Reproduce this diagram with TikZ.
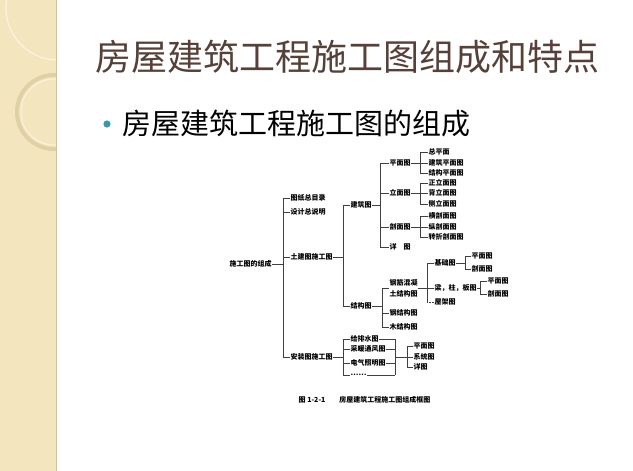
\documentclass[tikz,border=0pt]{standalone}
\usepackage{fontspec}
\newfontfamily\cjk{Noto Sans CJK SC}
\usetikzlibrary{positioning,calc}

\definecolor{bandbg}{RGB}{243,229,190}
\definecolor{bandedge}{RGB}{212,194,150}
\definecolor{titlecol}{RGB}{86,64,56}
\definecolor{bulletcol}{RGB}{60,152,174}

\begin{document}
\begin{tikzpicture}[x=1pt,y=-1pt,
    lbl/.style={anchor=west,inner sep=0.5pt,font=\cjk\bfseries\fontsize{7}{11}\selectfont},
    link/.style={draw=black!75,line width=0.5pt},
    title/.style={anchor=west,inner sep=0pt,text=titlecol,
                  font=\cjk\fontsize{36}{40}\selectfont},
    subtitle/.style={anchor=west,inner sep=0pt,
                  font=\cjk\fontsize{29}{32}\selectfont}]

    \useasboundingbox (0,0) rectangle (633,471);

    % left band
    \fill[bandbg] (0,0) rectangle (56,471);
    \begin{scope}
      \clip (0,0) rectangle (56,471);
      \draw[white!55!bandbg,line width=1.2pt] (58,8) circle (52);
      \draw[bandedge!60!bandbg,line width=4pt] (54,112) circle (37);
      \draw[white!50!bandbg,line width=1pt] (54,112) circle (33);
    \end{scope}
    \draw[bandedge,line width=1pt] (56,0) -- (56,471);

    % headings
    \node[title] (ttl) at (95,57) {房屋建筑工程施工图组成和特点};
    \fill[bulletcol] (107,124) circle (3.6);
    \node[subtitle] (sub) at (122,124) {房屋建筑工程施工图的组成};

    % level 0 and 1
    \node[lbl] (sgt) at (229,264) {施工图的组成};
    \coordinate (j0) at (283,264);
    \foreach \n/\t/\y in {tzml/图纸总目录/198, sjsm/设计总说明/212,
                          tjt/土建图施工图/257, azt/安装图施工图/357}
      \node[lbl] (\n) at (290,\y) {\t};
    \draw[link] (sgt) -- (j0);
    \draw[link] (j0 |- tzml.west) -- (j0 |- azt.west);
    \foreach \n in {tzml,sjsm,tjt,azt}
      \draw[link] (j0 |- \n.west) -- (\n.west);

    % 土建图施工图
    \coordinate (j1) at (343,257);
    \node[lbl] (jzt) at (350,205) {建筑图};
    \node[lbl] (jgt) at (350,306) {结构图};
    \draw[link] (tjt) -- (j1);
    \draw[link] (j1 |- jzt.west) -- (j1 |- jgt.west);
    \foreach \n in {jzt,jgt}
      \draw[link] (j1 |- \n.west) -- (\n.west);

    % 建筑图
    \coordinate (j2) at (380,205);
    \foreach \n/\t/\y in {pmt/平面图/163, lmt/立面图/193,
                          pqt/剖面图/227, xt/详\quad 图/247}
      \node[lbl] (\n) at (389,\y) {\t};
    \draw[link] (jzt) -- (j2);
    \draw[link] (j2 |- pmt.west) -- (j2 |- xt.west);
    \foreach \n in {pmt,lmt,pqt,xt}
      \draw[link] (j2 |- \n.west) -- (\n.west);

    \coordinate (j3) at (420,163);
    \foreach \n/\t/\y in {zpm/总平面/152, jzpm/建筑平面图/163, jgpm/结构平面图/173}
      \node[lbl] (\n) at (428,\y) {\t};
    \draw[link] (pmt) -- (j3);
    \draw[link] (j3 |- zpm.west) -- (j3 |- jgpm.west);
    \foreach \n in {zpm,jzpm,jgpm}
      \draw[link] (j3 |- \n.west) -- (\n.west);

    \coordinate (j4) at (420,193);
    \foreach \n/\t/\y in {zlm/正立面图/183, blm/背立面图/193, clm/侧立面图/204}
      \node[lbl] (\n) at (428,\y) {\t};
    \draw[link] (lmt) -- (j4);
    \draw[link] (j4 |- zlm.west) -- (j4 |- clm.west);
    \foreach \n in {zlm,blm,clm}
      \draw[link] (j4 |- \n.west) -- (\n.west);

    \coordinate (j5) at (420,227);
    \foreach \n/\t/\y in {hpm/横剖面图/216, zpq/纵剖面图/227, zzpm/转折剖面图/237}
      \node[lbl] (\n) at (428,\y) {\t};
    \draw[link] (pqt) -- (j5);
    \draw[link] (j5 |- hpm.west) -- (j5 |- zzpm.west);
    \foreach \n in {hpm,zpq,zzpm}
      \draw[link] (j5 |- \n.west) -- (\n.west);

    % 结构图
    \coordinate (j6) at (382,306);
    \node[lbl,align=left] (hnt) at (389,288) {钢筋混凝\\土结构图};
    \node[lbl] (gjg) at (389,313) {钢结构图};
    \node[lbl] (mjg) at (389,327) {木结构图};
    \draw[link] (jgt) -- (j6);
    \draw[link] (j6 |- hnt.west) -- (j6 |- mjg.west);
    \foreach \n in {hnt,gjg,mjg}
      \draw[link] (j6 |- \n.west) -- (\n.west);

    \coordinate (j7) at (427,288);
    \node[lbl] (jct) at (434,263) {基础图};
    \node[lbl] (lzb) at (434,288) {梁，柱，板图};
    \node[lbl] (wjt) at (434,302) {屋架图};
    \draw[link] (hnt) -- (j7);
    \draw[link] (j7 |- jct.west) -- (j7 |- wjt.west);
    \foreach \n in {jct,lzb}
      \draw[link] (j7 |- \n.west) -- (\n.west);
    \draw[link,densely dotted] (j7 |- wjt.west) -- (wjt.west);

    \coordinate (j8) at (465,263);
    \node[lbl] (jcp) at (471,256) {平面图};
    \node[lbl] (jcq) at (471,269) {剖面图};
    \draw[link] (jct) -- (j8);
    \draw[link] (j8 |- jcp.west) -- (j8 |- jcq.west);
    \foreach \n in {jcp,jcq}
      \draw[link] (j8 |- \n.west) -- (\n.west);

    \coordinate (j9) at (480,288);
    \node[lbl] (lzp) at (487,281) {平面图};
    \node[lbl] (lzq) at (487,294) {剖面图};
    \draw[link] (lzb) -- (j9);
    \draw[link] (j9 |- lzp.west) -- (j9 |- lzq.west);
    \foreach \n in {lzp,lzq}
      \draw[link] (j9 |- \n.west) -- (\n.west);

    % 安装图施工图
    \coordinate (j10) at (343,357);
    \foreach \n/\t/\y in {gps/给排水图/339, cntf/采暖通风图/349,
                          dqzm/电气照明图/363, more/……/375}
      \node[lbl] (\n) at (350,\y) {\t};
    \draw[link] (azt) -- (j10);
    \draw[link] (j10 |- gps.west) -- (j10 |- more.west);
    \foreach \n in {gps,cntf,dqzm,more}
      \draw[link] (j10 |- \n.west) -- (\n.west);

    \coordinate (b1) at (395,357);
    \foreach \n in {gps,cntf,dqzm,more}
      \draw[link] (\n.east) -- (b1 |- \n.east);
    \draw[link] (b1 |- gps.east) -- (b1 |- more.east);

    \coordinate (j11) at (407,357);
    \foreach \n/\t/\y in {azp/平面图/346, azx/系统图/357, azxt/详图/367}
      \node[lbl] (\n) at (413,\y) {\t};
    \draw[link] (b1) -- (j11);
    \draw[link] (j11 |- azp.west) -- (j11 |- azxt.west);
    \foreach \n in {azp,azx,azxt}
      \draw[link] (j11 |- \n.west) -- (\n.west);

    % caption
    \node[lbl] (cap) at (298,400) {图 1-2-1\quad\quad 房屋建筑工程施工图组成框图};
\end{tikzpicture}
\end{document}
